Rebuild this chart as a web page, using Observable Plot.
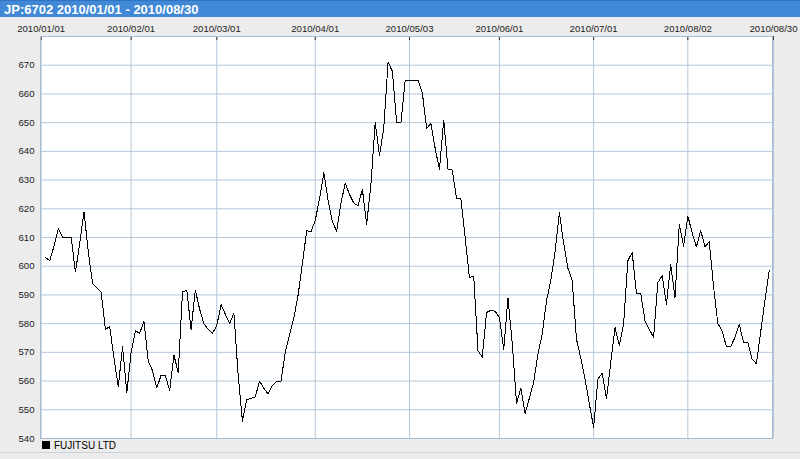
<!DOCTYPE html>
<html><head><meta charset="utf-8">
<script src="https://cdn.jsdelivr.net/npm/d3@7"></script>
<script src="https://cdn.jsdelivr.net/npm/@observablehq/plot@0.6"></script>
<style>
html,body{margin:0;padding:0;background:#ececec;}
#wrap{position:relative;width:800px;height:459px;background:#ececec;overflow:hidden;font-family:"Liberation Sans",Arial,sans-serif;}
#title{position:absolute;left:0;top:0;width:800px;height:17px;background:#4189d6;color:#fff;font-weight:bold;font-size:13px;line-height:18px;padding-left:4px;box-sizing:border-box;border-top:1px solid #2f74c2;}
#chart{position:absolute;left:0;top:17px;}
#legend{position:absolute;left:42px;top:440px;font-size:10px;color:#000;display:flex;align-items:center;height:10px;}
#legend .sw{width:8px;height:8px;background:#000;margin-right:4px;}
#foot{position:absolute;left:0;top:452px;width:800px;height:1px;background:#c5d3e0;}
</style></head>
<body>
<div id="wrap">
  <div id="title"></div>
  <div id="chart"></div>
  <div id="legend"><span class="sw"></span><span id="legtext"></span></div>
  <div id="foot"></div>
</div>
<script>
const titleText = "JP:6702 2010/01/01 - 2010/08/30";
const seriesName = "FUJITSU LTD";
const firstDay = "2010/01/01";
const tickDates = ["2010/01/01","2010/02/01","2010/03/01","2010/04/01","2010/05/03","2010/06/01","2010/07/01","2010/08/02","2010/08/30"];
const yTicks = [540,550,560,570,580,590,600,610,620,630,640,650,660,670];
// closing price, one entry per weekday starting 2010/01/01 (holidays repeat the previous close)
const closes = [
  null,603,602,607,613,610,610,610,598,608,
  619,605,594,592.5,591,578,579,568,558,572,
  556,570,577.5,576.7,580.8,567,563.6,557.6,562,562,
  556.7,569,563,591,591.7,578,591.7,585,580,578,
  576.7,579.3,586.6,583.3,580,583.7,562,546,553.5,554,
  554.5,560,557.5,555.5,558.5,560,560,570,576,582,
  590,601,612.4,612,616,623.5,632.6,623,615.5,612.2,
  622,628.9,625,622,621,626.8,614.6,628.5,650,638.6,
  648.2,671,667.9,650,650,664.8,664.8,664.8,664.8,660.4,
  648,649.7,641,633.7,650.9,633.7,633.5,623.5,623.5,610,
  596.1,596.6,570.6,568.3,583.9,584.6,584.3,582.2,571,589,
  573,552.1,557.6,548.7,554,559.6,569.4,576.4,588,595,
  605,618.7,608,599.3,594.9,574.6,568,560.7,552.1,543.9,
  560.7,562.7,553.8,566.5,578.7,572.3,579.9,601.9,604.8,590.5,
  590.5,581,578,575.2,594.3,596.7,586.8,600.5,589.1,614.6,
  607,617.5,611.7,606.7,612.5,606.7,608.6,593,580.1,577.5,
  572,572,575.2,579.9,573.5,573.5,567.7,566,577,588,
  598.4
];

function weekdayIndex(s) {
  const [y0, m0, d0] = firstDay.split("/").map(Number);
  const [y, m, d] = s.split("/").map(Number);
  const start = Date.UTC(y0, m0 - 1, d0), end = Date.UTC(y, m - 1, d);
  let n = 0;
  for (let t = start; t < end; t += 864e5) {
    const wd = new Date(t).getUTCDay();
    if (wd !== 0 && wd !== 6) n++;
  }
  return n;
}
const tickIdx = tickDates.map(weekdayIndex);
const data = closes.map((v, i) => ({i, v})).filter(d => d.v != null);

document.getElementById("title").textContent = titleText;
document.getElementById("legtext").textContent = seriesName;

const W = 800, H = 442, mT = 19, mB = 21, mL = 40, mR = 28;
const plotH = H - mT - mB;
const gridColor = "#b4c7db";

const chart = Plot.plot({
  width: W, height: H,
  marginTop: mT, marginBottom: mB, marginLeft: mL, marginRight: mR,
  style: {background: "transparent", fontFamily: "'Liberation Sans', Arial, sans-serif", fontSize: "9.6px", color: "#222"},
  x: {domain: [-0.16, 170.77]},
  y: {domain: [540, 680]},
  marks: [
    Plot.frame({fill: "#fff", stroke: "none"}),
    Plot.gridY({ticks: yTicks, stroke: gridColor, strokeOpacity: 1}),
    Plot.gridX({ticks: tickIdx, stroke: gridColor, strokeOpacity: 1}),
    Plot.gridX({ticks: tickIdx, stroke: "#333", strokeOpacity: 1, insetBottom: plotH - 4}),
    Plot.frame({stroke: "#a9bdd1"}),
    Plot.axisY({ticks: yTicks, tickSize: 0, tickPadding: 6, label: null}),
    Plot.axisX({anchor: "top", ticks: tickIdx, tickFormat: d => tickDates[tickIdx.indexOf(d)], tickSize: 0, tickPadding: 5, label: null, fontWeight: "normal"}),
    Plot.line(data, {x: "i", y: "v", stroke: "#000", strokeWidth: 1, shapeRendering: "crispEdges"})
  ]
});
document.getElementById("chart").appendChild(chart);
</script>
</body></html>
